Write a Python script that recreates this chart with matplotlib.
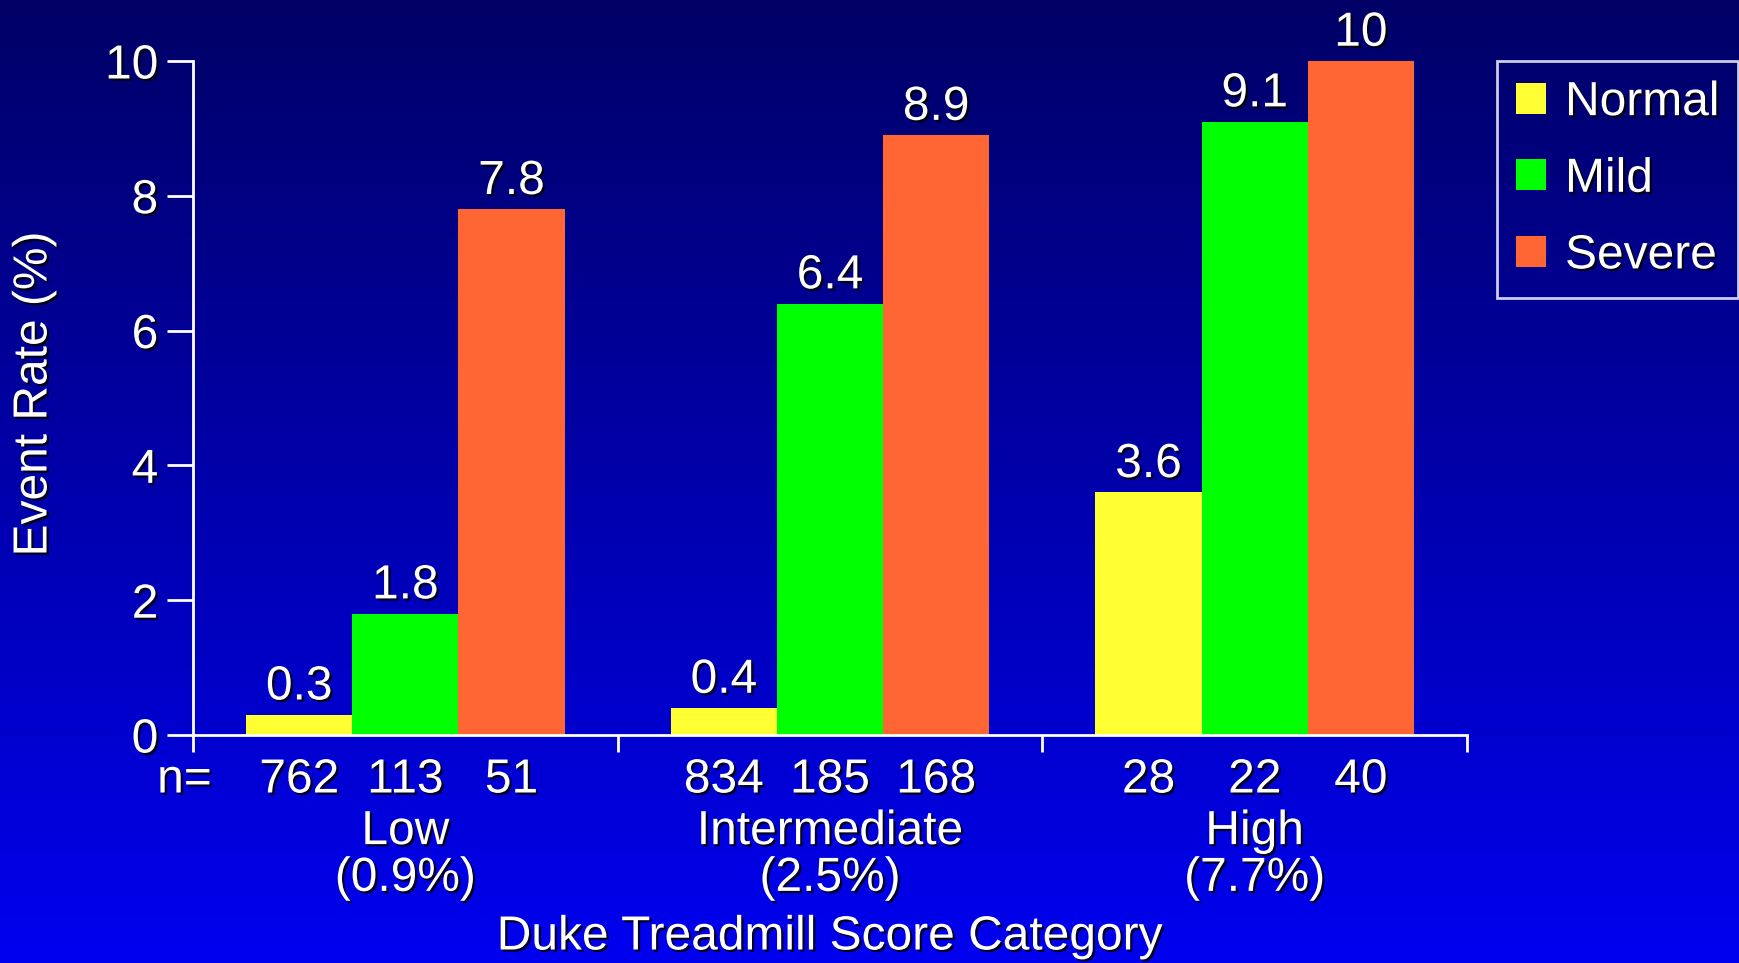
import numpy as np
import matplotlib
matplotlib.use("Agg")
import matplotlib.pyplot as plt
import matplotlib.patheffects as pe
import matplotlib.transforms as mtransforms
from matplotlib.patches import Patch

# Event rates (%) by Duke treadmill score category and perfusion result
categories = ["Low\n(0.9%)", "Intermediate\n(2.5%)", "High\n(7.7%)"]
series_names = ["Normal", "Mild", "Severe"]
normal = [0.3, 0.4, 3.6]
mild = [1.8, 6.4, 9.1]
severe = [7.8, 8.9, 10]
normal_n = [762, 834, 28]
mild_n = [113, 185, 22]
severe_n = [51, 168, 40]
yticks = [0, 2, 4, 6, 8, 10]

colors = ["#FFFF33", "#00FF00", "#FF6633"]
FS = 34.5
plt.rcParams["font.family"] = ["Liberation Sans", "DejaVu Sans"]
shadow = [pe.SimplePatchShadow(offset=(1.6, -1.6), shadow_rgbFace="black", alpha=0.85),
          pe.Normal()]

fig = plt.figure(figsize=(17.39, 9.63), dpi=100)

# blue vertical gradient background
bg = fig.add_axes([0, 0, 1, 1], zorder=-10)
grad = np.linspace(0, 1, 256).reshape(-1, 1)
top = np.array([0.0, 0.0, 0.40])
bottom = np.array([0.0, 0.0, 0.94])
img = top + (bottom - top) * grad[..., None]
bg.imshow(img, aspect="auto", extent=[0, 1, 0, 1], origin="upper")
bg.set_axis_off()

ax = fig.add_axes([193 / 1739, 1 - 735 / 963, 1274 / 1739, 674 / 963])
ax.patch.set_alpha(0)

x = np.arange(len(categories))
w = 0.25
series = [normal, mild, severe]
counts = [normal_n, mild_n, severe_n]
for i, (vals, col) in enumerate(zip(series, colors)):
    xs = x + (i - 1) * w
    ax.bar(xs, vals, width=w, color=col, linewidth=0, zorder=2)
    for xi, v in zip(xs, vals):
        ax.annotate(f"{v:g}", (xi, v), xytext=(0, 11), textcoords="offset points",
                    ha="center", va="baseline", color="white", fontsize=FS,
                    path_effects=shadow, annotation_clip=False)

ax.set_xlim(-0.5, 2.5)
ax.set_ylim(0, 10)
ax.set_yticks(yticks)
ax.set_yticklabels([str(t) for t in yticks])
ax.set_xticks([-0.5, 0.5, 1.5, 2.5])
ax.set_xticklabels([])
for s in ["top", "right"]:
    ax.spines[s].set_visible(False)
for s in ["left", "bottom"]:
    ax.spines[s].set_color("white")
    ax.spines[s].set_linewidth(2)
ax.tick_params(axis="y", colors="white", length=19, width=2, pad=6, labelsize=FS)
ax.tick_params(axis="x", colors="white", length=12, width=2, direction="out")
for lab in ax.get_yticklabels():
    lab.set_path_effects(shadow)

fig.text(34 / 1739, 1 - 394 / 963, "Event Rate (%)", rotation=90, ha="center",
         va="center", color="white", fontsize=FS, path_effects=shadow)

# sample sizes and category names below the axis
trans = mtransforms.blended_transform_factory(ax.transData, fig.transFigure)
ax.text(-0.52, 1 - 780 / 963, "n=", transform=trans, ha="center", va="center",
        color="white", fontsize=FS, path_effects=shadow)
for i, cnt in enumerate(counts):
    for xi, c in zip(x + (i - 1) * w, cnt):
        ax.text(xi, 1 - 780 / 963, str(c), transform=trans, ha="center", va="center",
                color="white", fontsize=FS, path_effects=shadow)
for xi, cat in zip(x, categories):
    ax.text(xi, 1 - 855 / 963, cat, transform=trans, ha="center", va="center",
            color="white", fontsize=FS, linespacing=1.05, path_effects=shadow)

fig.text(0.477, 1 - 937 / 963, "Duke Treadmill Score Category", ha="center", va="center",
         color="white", fontsize=FS, path_effects=shadow)

handles = [Patch(facecolor=c, edgecolor="none") for c in colors]
leg = fig.legend(handles, series_names, loc="upper left",
                 bbox_to_anchor=(1497 / 1739, 1 - 61 / 963),
                 bbox_transform=fig.transFigure, frameon=True, fontsize=FS,
                 handlelength=0.62, handleheight=0.62, handletextpad=0.4,
                 labelspacing=0.66, borderpad=0.40, borderaxespad=0,
                 fancybox=False)
leg.get_frame().set_facecolor("none")
leg.get_frame().set_edgecolor("white")
leg.get_frame().set_linewidth(2)
for t in leg.get_texts():
    t.set_color("white")
    t.set_path_effects(shadow)

fig.savefig("out.png", dpi=100)
